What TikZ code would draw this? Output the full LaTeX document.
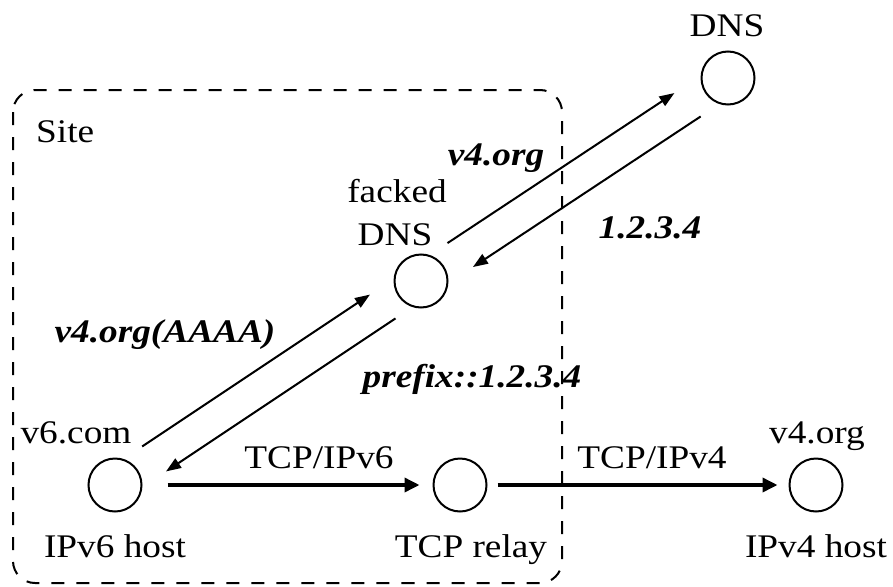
\documentclass[tikz,border=0pt]{standalone}
\usepackage{fontspec}
\setmainfont[FakeStretch=1.13]{Liberation Serif}
\usetikzlibrary{arrows.meta,calc}

\tikzset{
  host/.style={circle, draw, line width=2pt, minimum size=53pt, inner sep=0pt},
  lbl/.style={anchor=base, inner sep=0pt, font=\fontsize{33}{40}\selectfont},
  msg/.style={lbl, font=\fontsize{33}{40}\selectfont\bfseries\itshape},
  query/.style={line width=2pt, -{Triangle[length=15pt,width=11pt]}},
  flow/.style={line width=3.5pt, -{Triangle[length=15pt,width=14pt]}},
  sitebox/.style={line width=2pt, dash pattern=on 13pt off 12pt, rounded corners=22pt}
}

\begin{document}
\begin{tikzpicture}[x=1pt, y=-1pt]
  \useasboundingbox (0,0) rectangle (893,586);

  % site boundary
  \draw[sitebox] (13,90) rectangle (562,583);
  \node[lbl, anchor=base west] (site) at (36,142) {Site};

  % hosts and servers
  \node[host] (h6)    at (115,485) {};
  \node[host] (relay) at (460,485) {};
  \node[host] (h4)    at (816,485) {};
  \node[host] (fdns)  at (421,281) {};
  \node[host] (dns)   at (728,78)  {};

  % node labels
  \node[lbl] (dnsname)   at (727,37)  {DNS};
  \node[lbl] (fdnsname1) at (397,202) {facked};
  \node[lbl] (fdnsname2) at (395,245) {DNS};
  \node[lbl] (h6name)    at (76,443)  {v6.com};
  \node[lbl] (h6role)    at (115,557) {IPv6 host};
  \node[lbl] (relayrole) at (471,557) {TCP relay};
  \node[lbl] (h4name)    at (817,443) {v4.org};
  \node[lbl] (h4role)    at (816,557) {IPv4 host};

  % DNS query / answer pairs, drawn parallel to the line between the two circles
  \draw[query, shorten <=44pt, shorten >=50pt]
    ($(h6)!17pt!90:(fdns)$) -- ($(fdns)!17pt!-90:(h6)$);
  \draw[query, shorten <=42pt, shorten >=50pt]
    ($(fdns)!17pt!90:(h6)$) -- ($(h6)!17pt!-90:(fdns)$);
  \draw[query, shorten <=43pt, shorten >=53pt]
    ($(fdns)!17pt!90:(dns)$) -- ($(dns)!17pt!-90:(fdns)$);
  \draw[query, shorten <=44pt, shorten >=51pt]
    ($(dns)!17pt!90:(fdns)$) -- ($(fdns)!17pt!-90:(dns)$);

  \node[msg] (q6)  at (165,342) {v4.org(AAAA)};
  \node[msg] (a6)  at (472,387) {prefix::1.2.3.4};
  \node[msg] (q4)  at (496,165) {v4.org};
  \node[msg] (a4)  at (650,238) {1.2.3.4};

  % TCP connections
  \draw[flow, shorten <=25pt, shorten >=13pt] (h6) -- (relay);
  \draw[flow, shorten <=10pt, shorten >=11pt] (relay) -- (h4);
  \node[lbl] (tcp6) at (319,468) {TCP/IPv6};
  \node[lbl] (tcp4) at (652,468) {TCP/IPv4};
\end{tikzpicture}
\end{document}
